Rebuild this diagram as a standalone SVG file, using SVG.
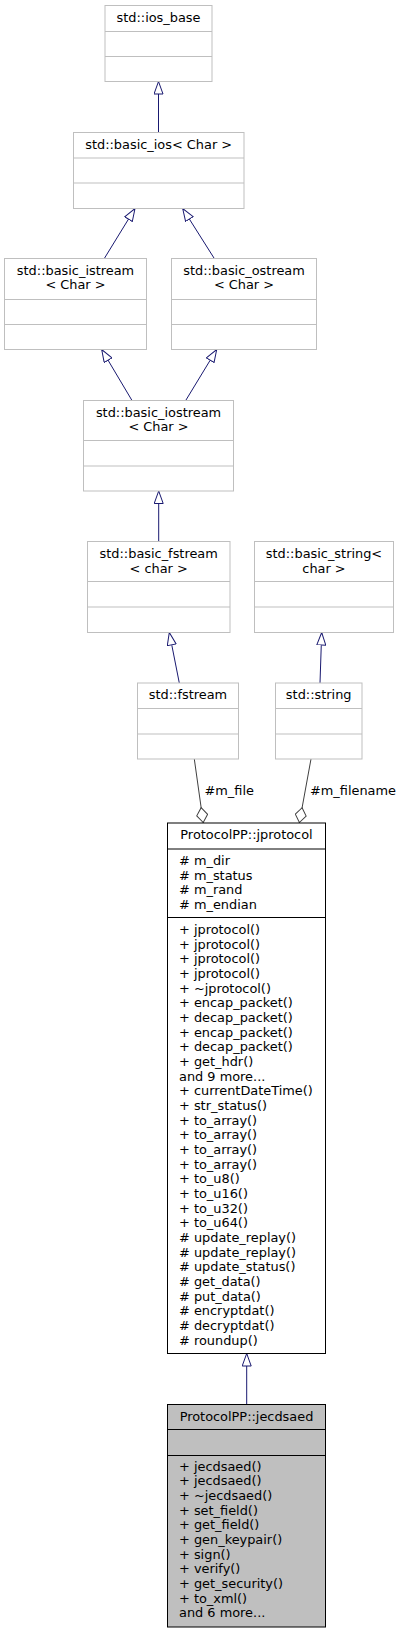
<svg xmlns="http://www.w3.org/2000/svg" width="404" height="1633" viewBox="0 0 404 1633">
<style>
text{font-family:"DejaVu Sans","Liberation Sans",sans-serif;font-size:12.9px;fill:#000}
.c{text-anchor:middle}
.gb{fill:#fff;stroke:#bfbfbf;stroke-width:1}
.gl{stroke:#bfbfbf;stroke-width:1}
.bb{fill:#fff;stroke:#000;stroke-width:1}
.sel{fill:#bfbfbf;stroke:#000;stroke-width:1}
.bl{stroke:#000;stroke-width:1}
.inh{fill:none;stroke:#191970;stroke-width:1;marker-end:url(#tri)}
.agg{fill:none;stroke:#404040;stroke-width:1;marker-end:url(#dia)}
</style>
<defs>
<marker id="tri" viewBox="0 0 14 10" refX="13" refY="5" markerWidth="14" markerHeight="10" markerUnits="userSpaceOnUse" orient="auto">
<path d="M0.5,0.5 L13,5 L0.5,9.5 Z" fill="#fff" stroke="#191970" stroke-width="1"/>
</marker>
<marker id="dia" viewBox="0 0 17 12" refX="16" refY="6" markerWidth="17" markerHeight="12" markerUnits="userSpaceOnUse" orient="auto">
<path d="M0.5,6 L8,0.5 L15.5,6 L8,11.5 Z" fill="#fff" stroke="#404040" stroke-width="1"/>
</marker>
</defs>
<g id="connectors">
<path class="inh" d="M158.5,132.5 L158.5,81.5"/>
<path class="inh" d="M104.3,258.5 L135,208.5"/>
<path class="inh" d="M214.3,258.5 L182.7,208.5"/>
<path class="inh" d="M132,400.5 L101.7,349.5"/>
<path class="inh" d="M185.7,400.5 L216.7,349.5"/>
<path class="inh" d="M158.7,541.5 L158.7,491"/>
<path class="inh" d="M179.3,683 L169.3,632.5"/>
<path class="inh" d="M320,683 L321.7,632.5"/>
<path class="agg" d="M194.3,759 L203.3,823"/>
<path class="agg" d="M311,759 L299.3,823"/>
<path class="inh" d="M246.7,1404.5 L246.7,1353.5"/>
<text x="204.5" y="795">#m_file</text>
<text x="310" y="795">#m_filename</text>
</g>
<g id="ios_base">
<rect class="gb" x="105" y="5.5" width="107" height="76"/>
<line class="gl" x1="105" y1="31.5" x2="212" y2="31.5"/>
<line class="gl" x1="105" y1="56.5" x2="212" y2="56.5"/>
<text class="c" x="158.5" y="21.5">std::ios_base</text>
</g>
<g id="basic_ios">
<rect class="gb" x="73.5" y="132.5" width="170.5" height="76"/>
<line class="gl" x1="73.5" y1="158" x2="244" y2="158"/>
<line class="gl" x1="73.5" y1="183" x2="244" y2="183"/>
<text class="c" x="158.7" y="148.5">std::basic_ios&lt; Char &gt;</text>
</g>
<g id="basic_istream">
<rect class="gb" x="4.5" y="258.5" width="142" height="91"/>
<line class="gl" x1="4.5" y1="299.5" x2="146.5" y2="299.5"/>
<line class="gl" x1="4.5" y1="324.5" x2="146.5" y2="324.5"/>
<text class="c" x="75.5" y="274.5">std::basic_istream</text>
<text class="c" x="75.5" y="289">&lt; Char &gt;</text>
</g>
<g id="basic_ostream">
<rect class="gb" x="171.5" y="258.5" width="145" height="91"/>
<line class="gl" x1="171.5" y1="299.5" x2="316.5" y2="299.5"/>
<line class="gl" x1="171.5" y1="324.5" x2="316.5" y2="324.5"/>
<text class="c" x="244" y="274.5">std::basic_ostream</text>
<text class="c" x="244" y="289">&lt; Char &gt;</text>
</g>
<g id="basic_iostream">
<rect class="gb" x="83.5" y="400.5" width="150" height="90.5"/>
<line class="gl" x1="83.5" y1="440.5" x2="233.5" y2="440.5"/>
<line class="gl" x1="83.5" y1="466" x2="233.5" y2="466"/>
<text class="c" x="158.5" y="416.5">std::basic_iostream</text>
<text class="c" x="158.5" y="430.5">&lt; Char &gt;</text>
</g>
<g id="basic_fstream">
<rect class="gb" x="87.5" y="541.5" width="142.5" height="91"/>
<line class="gl" x1="87.5" y1="581.5" x2="230" y2="581.5"/>
<line class="gl" x1="87.5" y1="607" x2="230" y2="607"/>
<text class="c" x="158.7" y="558">std::basic_fstream</text>
<text class="c" x="158.7" y="572.5">&lt; char &gt;</text>
</g>
<g id="basic_string">
<rect class="gb" x="254.5" y="541.5" width="139" height="91"/>
<line class="gl" x1="254.5" y1="581.5" x2="393.5" y2="581.5"/>
<line class="gl" x1="254.5" y1="607" x2="393.5" y2="607"/>
<text class="c" x="324" y="558">std::basic_string&lt;</text>
<text class="c" x="324" y="572.5">char &gt;</text>
</g>
<g id="fstream">
<rect class="gb" x="137.5" y="683" width="101" height="76"/>
<line class="gl" x1="137.5" y1="708.5" x2="238.5" y2="708.5"/>
<line class="gl" x1="137.5" y1="734" x2="238.5" y2="734"/>
<text class="c" x="188" y="699">std::fstream</text>
</g>
<g id="string">
<rect class="gb" x="275.5" y="683" width="86.5" height="76"/>
<line class="gl" x1="275.5" y1="708.5" x2="362" y2="708.5"/>
<line class="gl" x1="275.5" y1="734" x2="362" y2="734"/>
<text class="c" x="318.7" y="699">std::string</text>
</g>
<g id="jprotocol">
<rect class="bb" x="167.5" y="823" width="158" height="530.5"/>
<line class="bl" x1="167.5" y1="849" x2="325.5" y2="849"/>
<line class="bl" x1="167.5" y1="917.5" x2="325.5" y2="917.5"/>
<text class="c" x="246.5" y="839">ProtocolPP::jprotocol</text>
<text x="179" y="865"><tspan x="179"># m_dir</tspan><tspan x="179" dy="14.667"># m_status</tspan><tspan x="179" dy="14.667"># m_rand</tspan><tspan x="179" dy="14.667"># m_endian</tspan></text>
<text x="179" y="934"><tspan x="179">+ jprotocol()</tspan><tspan x="179" dy="14.667">+ jprotocol()</tspan><tspan x="179" dy="14.667">+ jprotocol()</tspan><tspan x="179" dy="14.667">+ jprotocol()</tspan><tspan x="179" dy="14.667">+ ~jprotocol()</tspan><tspan x="179" dy="14.667">+ encap_packet()</tspan><tspan x="179" dy="14.667">+ decap_packet()</tspan><tspan x="179" dy="14.667">+ encap_packet()</tspan><tspan x="179" dy="14.667">+ decap_packet()</tspan><tspan x="179" dy="14.667">+ get_hdr()</tspan><tspan x="179" dy="14.667">and 9 more...</tspan><tspan x="179" dy="14.667">+ currentDateTime()</tspan><tspan x="179" dy="14.667">+ str_status()</tspan><tspan x="179" dy="14.667">+ to_array()</tspan><tspan x="179" dy="14.667">+ to_array()</tspan><tspan x="179" dy="14.667">+ to_array()</tspan><tspan x="179" dy="14.667">+ to_array()</tspan><tspan x="179" dy="14.667">+ to_u8()</tspan><tspan x="179" dy="14.667">+ to_u16()</tspan><tspan x="179" dy="14.667">+ to_u32()</tspan><tspan x="179" dy="14.667">+ to_u64()</tspan><tspan x="179" dy="14.667"># update_replay()</tspan><tspan x="179" dy="14.667"># update_replay()</tspan><tspan x="179" dy="14.667"># update_status()</tspan><tspan x="179" dy="14.667"># get_data()</tspan><tspan x="179" dy="14.667"># put_data()</tspan><tspan x="179" dy="14.667"># encryptdat()</tspan><tspan x="179" dy="14.667"># decryptdat()</tspan><tspan x="179" dy="14.667"># roundup()</tspan></text>
</g>
<g id="jecdsaed">
<rect class="sel" x="167.5" y="1404.5" width="158" height="222.5"/>
<line class="bl" x1="167.5" y1="1429.5" x2="325.5" y2="1429.5"/>
<line class="bl" x1="167.5" y1="1455.5" x2="325.5" y2="1455.5"/>
<text class="c" x="246.5" y="1420.5">ProtocolPP::jecdsaed</text>
<text x="179" y="1470.7"><tspan x="179">+ jecdsaed()</tspan><tspan x="179" dy="14.667">+ jecdsaed()</tspan><tspan x="179" dy="14.667">+ ~jecdsaed()</tspan><tspan x="179" dy="14.667">+ set_field()</tspan><tspan x="179" dy="14.667">+ get_field()</tspan><tspan x="179" dy="14.667">+ gen_keypair()</tspan><tspan x="179" dy="14.667">+ sign()</tspan><tspan x="179" dy="14.667">+ verify()</tspan><tspan x="179" dy="14.667">+ get_security()</tspan><tspan x="179" dy="14.667">+ to_xml()</tspan><tspan x="179" dy="14.667">and 6 more...</tspan></text>
</g>
</svg>
